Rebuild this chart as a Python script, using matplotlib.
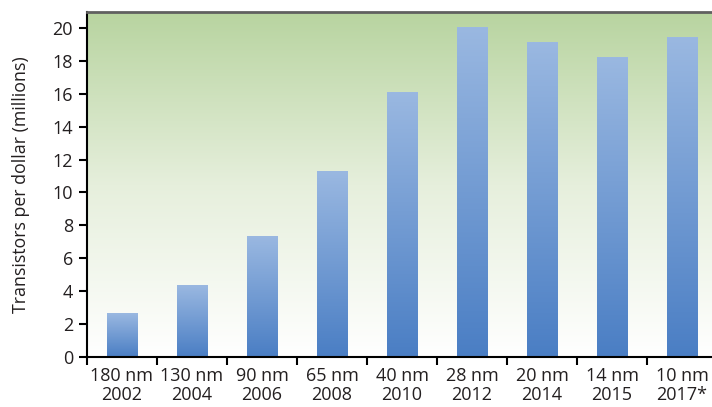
import numpy as np
import matplotlib.pyplot as plt
from matplotlib.colors import LinearSegmentedColormap

nodes = ['180 nm', '130 nm', '90 nm', '65 nm', '40 nm', '28 nm', '20 nm', '14 nm', '10 nm']
years = ['2002', '2004', '2006', '2008', '2010', '2012', '2014', '2015', '2017*']
transistors = [2.65, 4.35, 7.3, 11.25, 16.05, 20.0, 19.1, 18.2, 19.45]

plt.rcParams['font.family'] = ['Open Sans', 'DejaVu Sans']
text_col = '#231f20'

fig = plt.figure(figsize=(7.12, 4.07), dpi=100)
# plot area runs a little past the right edge of the figure
ax = fig.add_axes([87 / 712, 1 - 357 / 407, 630 / 712, 345 / 407])

x = np.arange(len(nodes))

# green-to-white background
bg = LinearSegmentedColormap.from_list('bg', ['#ffffff', '#e6efdc', '#b8d4a0'])
ax.imshow(np.linspace(0, 1, 256).reshape(-1, 1), cmap=bg, origin='lower',
          extent=[0, 1, 0, 1], transform=ax.transAxes, aspect='auto', zorder=0)

# bars with a vertical blue gradient
bar_cmap = LinearSegmentedColormap.from_list('bar', ['#4a7ec4', '#9ab8e1'])
bars = ax.bar(x, transistors, width=0.43, color='none', zorder=2)
grad = np.linspace(0, 1, 256).reshape(-1, 1)
for b in bars:
    x0, w, h = b.get_x(), b.get_width(), b.get_height()
    ax.imshow(grad, cmap=bar_cmap, origin='lower', aspect='auto',
              extent=[x0, x0 + w, 0, h], zorder=2)
ax.set_xlim(-0.5, len(nodes) - 0.5)
ax.set_ylim(0, 20.97)

ax.set_yticks(range(0, 21, 2))
ax.set_xticks(x)
ax.set_xticklabels([f'{n}\n{y}' for n, y in zip(nodes, years)], linespacing=1.12)
ax.set_xticks(np.arange(len(nodes) + 1) - 0.5, minor=True)
ax.tick_params(axis='x', which='major', length=0, pad=7)
ax.tick_params(axis='x', which='minor', length=6, width=1.5, color='black', direction='out')
ax.tick_params(axis='y', length=6, width=1.5, color='black', direction='out', pad=4)
ax.tick_params(labelsize=13, labelcolor=text_col)

ax.set_ylabel('Transistors per dollar (millions)', fontsize=12.8, color=text_col, labelpad=16)

for s in ['left', 'bottom']:
    ax.spines[s].set_linewidth(1.5)
    ax.spines[s].set_color('black')
ax.spines['top'].set_linewidth(2)
ax.spines['top'].set_color('#606060')
ax.spines['right'].set_visible(False)

fig.savefig('out.png', dpi=100)
